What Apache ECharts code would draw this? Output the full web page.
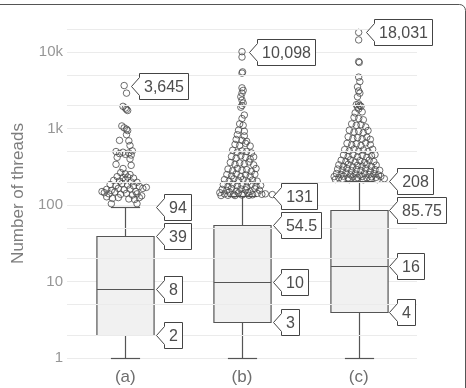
<!DOCTYPE html>
<html>
<head>
<meta charset="utf-8">
<script src="https://cdn.jsdelivr.net/npm/echarts@6/dist/echarts.min.js"></script>
<style>
	html, body { margin: 0; padding: 0; background: #fff; }
	#main { width: 466px; height: 388px; }
</style>
</head>
<body>
<div id="main"></div>
<script type="text/javascript">
	var categories = ['(a)', '(b)', '(c)'];
	var lowWhisker = [1, 1, 1];
	var q1 = [2, 3, 4];
	var median = [8, 10, 16];
	var q3 = [39, 54.5, 85.75];
	var highWhisker = [94, 131, 208];
	var yTicks = [1, 10, 100, 1000, 10000];
	var yTickLabels = ['1', '10', '100', '1k', '10k'];
	var minorGrid = [2, 5, 20, 50, 200, 500, 2000, 5000, 20000];

	// outliers: [jitter (category units), threads]
	var outliersA = [
		[-0.01, 3645], [0.01, 2900],
		[-0.02, 1950], [0, 1850], [0.01, 1780], [0.02, 1720],
		[-0.03, 1080], [-0.01, 1020], [0.01, 980], [0.02, 940],
		[0.01, 830], [-0.05, 700], [0.03, 690], [0.04, 600],
		[-0.08, 500], [-0.05, 470], [-0.02, 490], [0, 460], [0.03, 480], [0.05, 450], [0.06, 510],
		[-0.07, 420], [0.04, 400], [-0.08, 340], [0.05, 330], [-0.02, 300],
		[-0.04, 265], [0, 255], [0.04, 250], [-0.07, 235], [-0.02, 228], [0.02, 232], [0.07, 225],
		[-0.1, 210], [-0.05, 205], [0, 212], [0.05, 200], [0.1, 198],
		[-0.13, 185], [-0.08, 180], [-0.03, 190], [0.02, 182], [0.07, 178], [0.12, 175],
		[-0.16, 160], [-0.12, 155], [-0.06, 165], [-0.01, 158], [0.04, 162], [0.09, 150], [0.15, 165], [0.18, 170],
		[-0.18, 145], [-0.14, 140], [-0.09, 148], [-0.04, 138], [0.01, 142], [0.06, 135], [0.1, 140], [0.14, 132],
		[-0.2, 150], [-0.16, 128], [-0.11, 122], [-0.06, 125], [0.03, 120], [0.08, 118], [0.12, 125],
		[-0.12, 104], [0.1, 104]
	];
	var outliersB = [
		[0, 10098], [0, 8600], [0.005, 5500], [0, 5300],
		[0, 3400], [0.01, 3150], [0, 2900], [-0.01, 2600], [0, 2350], [0.01, 2150], [0, 2000], [-0.01, 1900],
		[0.02, 1500], [0, 1350], [-0.02, 1150], [0.01, 1100], [-0.03, 950], [0.02, 920], [-0.04, 830], [0.02, 800],
		[-0.05, 720], [0, 700], [0.04, 680],
		[-0.06, 620], [-0.02, 600], [0.03, 640], [0.07, 590],
		[-0.08, 520], [-0.04, 490], [0, 510], [0.04, 500], [0.08, 480],
		[-0.09, 430], [-0.05, 410], [-0.01, 440], [0.03, 420], [0.07, 400], [0.1, 425],
		[-0.1, 360], [-0.06, 340], [-0.02, 355], [0.02, 345], [0.06, 365], [0.1, 335],
		[-0.12, 295], [-0.08, 280], [-0.04, 300], [0, 285], [0.04, 290], [0.08, 275], [0.12, 300],
		[-0.13, 250], [-0.09, 240], [-0.05, 255], [-0.01, 235], [0.03, 248], [0.07, 238], [0.11, 252],
		[-0.15, 215], [-0.11, 205], [-0.07, 220], [-0.03, 208], [0.01, 215], [0.05, 200], [0.09, 212], [0.13, 205],
		[-0.16, 185], [-0.12, 175], [-0.08, 188], [-0.04, 178], [0, 182], [0.04, 172], [0.08, 186], [0.12, 176], [0.16, 180],
		[-0.17, 160], [-0.13, 155], [-0.09, 165], [-0.05, 152], [-0.01, 162], [0.03, 158], [0.07, 150], [0.11, 163], [0.15, 156],
		[-0.19, 145], [-0.15, 140], [-0.11, 148], [-0.07, 138], [-0.03, 144], [0.01, 140], [0.05, 146], [0.09, 136], [0.13, 142], [0.17, 138],
		[-0.18, 133], [-0.12, 134], [-0.06, 133], [0, 135], [0.06, 134], [0.2, 140], [0.26, 137]
	];
	var outliersC = [
		[0, 18031], [0, 14400], [0, 7500], [0.005, 7300], [0, 4700], [0.01, 4100], [-0.01, 3500], [0, 3100],
		[0.01, 2900], [-0.01, 2600], [0, 2100], [-0.02, 2050], [0.01, 2000], [0.02, 1950], [-0.01, 1900], [0, 1800],
		[0.03, 1650], [-0.03, 1600],
		[-0.04, 1400], [0, 1350], [0.04, 1300],
		[-0.06, 1150], [-0.02, 1100], [0.02, 1120], [0.06, 1050],
		[-0.08, 950], [-0.04, 900], [0, 920], [0.04, 880], [0.08, 940],
		[-0.09, 780], [-0.05, 740], [-0.01, 760], [0.03, 730], [0.07, 770], [0.1, 720],
		[-0.1, 640], [-0.06, 610], [-0.02, 630], [0.02, 600], [0.06, 650], [0.1, 615],
		[-0.12, 530], [-0.08, 510], [-0.04, 540], [0, 505], [0.04, 525], [0.08, 500], [0.12, 535],
		[-0.13, 450], [-0.09, 430], [-0.05, 455], [-0.01, 425], [0.03, 445], [0.07, 420], [0.11, 440], [0.14, 455],
		[-0.15, 385], [-0.11, 370], [-0.07, 390], [-0.03, 365], [0.01, 380], [0.05, 360], [0.09, 385], [0.13, 370],
		[-0.17, 335], [-0.13, 320], [-0.09, 340], [-0.05, 315], [-0.01, 330], [0.03, 322], [0.07, 338], [0.11, 318], [0.15, 332],
		[-0.18, 295], [-0.14, 285], [-0.1, 300], [-0.06, 280], [-0.02, 292], [0.02, 283], [0.06, 298], [0.1, 278], [0.14, 290], [0.18, 284],
		[-0.19, 258], [-0.15, 250], [-0.11, 262], [-0.07, 248], [-0.03, 255], [0.01, 245], [0.05, 260], [0.09, 250], [0.13, 257], [0.17, 247],
		[-0.21, 235], [-0.17, 228], [-0.13, 238], [-0.09, 226], [-0.05, 233], [-0.01, 229], [0.03, 236], [0.07, 227], [0.11, 234], [0.15, 230], [0.19, 237],
		[-0.2, 216], [-0.14, 218], [-0.08, 215], [-0.02, 220], [0.04, 214], [0.1, 219], [0.16, 215], [0.22, 221]
	];
	var outliers = [outliersA, outliersB, outliersC];

	var FONT = '"Liberation Sans", Arial, sans-serif';
	var TAG_FONT = '16px ' + FONT;
	var BOX_W = 0.49, CAP_W = 0.25;
	var lineColor = '#555555';

	// 数据整理
	var boxData = [];
	var pointData = [];
	var tags = [];
	outliers.forEach(function(list, i) {
		boxData.push([i, lowWhisker[i], q1[i], median[i], q3[i], highWhisker[i]]);
		var maxPt = list[0];
		list.forEach(function(o) {
			pointData.push([i + o[0], o[1]]);
			if (o[1] > maxPt[1]) maxPt = o;
		});
		[highWhisker[i], q3[i], median[i], q1[i]].forEach(function(v) {
			tags.push({ x: i, y: v, text: String(v), kind: 'box' });
		});
		tags.push({ x: i + maxPt[0], y: maxPt[1], text: maxPt[1].toLocaleString('en-US'), kind: 'pt' });
	});

	var measureCtx = document.createElement('canvas').getContext('2d');
	measureCtx.font = TAG_FONT;

	function bandWidth(api) {
		return api.coord([1, 1])[0] - api.coord([0, 1])[0];
	}

	function renderBox(params, api) {
		var i = api.value(0);
		var band = bandWidth(api);
		var cx = Math.round(api.coord([i, 1])[0]) + 0.5;
		var bw = band * BOX_W / 2, cw = band * CAP_W / 2;
		var y = [1, 2, 3, 4, 5].map(function(d) {
			return Math.round(api.coord([i, api.value(d)])[1]) + 0.5;
		});
		var st = { stroke: lineColor, lineWidth: 1.2, fill: null };
		return {
			type: 'group',
			children: [
				{ type: 'line', shape: { x1: cx, y1: y[0], x2: cx, y2: y[1] }, style: st },
				{ type: 'line', shape: { x1: cx, y1: y[3], x2: cx, y2: y[4] }, style: st },
				{ type: 'line', shape: { x1: cx - cw, y1: y[0], x2: cx + cw, y2: y[0] }, style: st },
				{ type: 'line', shape: { x1: cx - cw, y1: y[4], x2: cx + cw, y2: y[4] }, style: st },
				{ type: 'rect', shape: { x: cx - bw, y: y[3], width: bw * 2, height: y[1] - y[3] },
					style: { fill: '#f1f1f1', stroke: lineColor, lineWidth: 1.2 } },
				{ type: 'line', shape: { x1: cx - bw, y1: y[2], x2: cx + bw, y2: y[2] }, style: st }
			]
		};
	}

	function renderTag(params, api) {
		var t = tags[params.dataIndex];
		var p = api.coord([api.value(0), api.value(1)]);
		var band = bandWidth(api);
		var tx = t.kind === 'box' ? p[0] + band * BOX_W / 2 + 2 : p[0] + 7;
		var x0 = Math.round(tx) + 0.5;
		var y = Math.round(p[1]) + 0.5;
		var w = Math.round(measureCtx.measureText(t.text).width) + 9;
		var h = 26, d = 8, a = 9;
		return {
			type: 'group',
			children: [
				{
					type: 'polygon',
					shape: { points: [[x0, y], [x0 + d, y - a], [x0 + d, y - h / 2], [x0 + d + w, y - h / 2],
						[x0 + d + w, y + h / 2], [x0 + d, y + h / 2], [x0 + d, y + a]] },
					style: { fill: '#fff', stroke: '#444', lineWidth: 1 }
				},
				{
					type: 'text',
					style: { x: x0 + d + w / 2, y: y + 1, text: t.text, font: TAG_FONT, fill: '#4d4d4d',
						align: 'center', verticalAlign: 'middle', textAlign: 'center', textVerticalAlign: 'middle' }
				}
			]
		};
	}

	var chart = echarts.init(document.getElementById('main'));
	var option = {
		animation: false,
		backgroundColor: '#fff',
		graphic: [{
			type: 'rect',
			shape: { x: -10, y: 4.5, width: 475.5, height: 500, r: 6 },
			style: { fill: null, stroke: '#555', lineWidth: 1 },
			silent: true
		}],
		grid: { left: 67, right: 49, top: 29, bottom: 30, containLabel: false, outerBoundsMode: 'none' },
		xAxis: [{
			type: 'category',
			data: categories,
			axisLine: { show: false },
			axisTick: { show: false },
			splitLine: { show: false },
			axisLabel: { color: '#6e6e6e', fontSize: 17, fontFamily: FONT, margin: 11 }
		}, {
			type: 'value',
			min: -0.5,
			max: 2.5,
			show: false
		}],
		yAxis: {
			type: 'log',
			logBase: 10,
			min: 1,
			max: 20000,
			name: 'Number of threads',
			nameLocation: 'middle',
			nameGap: 31,
			nameTextStyle: { color: '#7d7d7d', fontSize: 17, fontFamily: FONT },
			axisLine: { show: false },
			axisTick: { show: false },
			axisLabel: {
				color: '#969696', fontSize: 15, fontFamily: FONT, margin: 4,
				formatter: function(v) {
					for (var j = 0; j < yTicks.length; j++) {
						if (Math.abs(v - yTicks[j]) < yTicks[j] * 1e-6) return yTickLabels[j];
					}
					return '';
				}
			},
			splitLine: { lineStyle: { color: '#ebebeb', width: 1 } }
		},
		series: [{
			type: 'line',
			xAxisIndex: 1,
			data: [],
			z: 1,
			silent: true,
			markLine: {
				silent: true,
				symbol: 'none',
				label: { show: false },
				lineStyle: { color: '#ebebeb', type: 'solid', width: 1 },
				data: minorGrid.map(function(v) { return { yAxis: v }; })
			}
		}, {
			type: 'custom',
			xAxisIndex: 1,
			renderItem: renderBox,
			encode: { x: 0, y: [1, 2, 3, 4, 5] },
			data: boxData,
			clip: false,
			z: 3
		}, {
			type: 'scatter',
			xAxisIndex: 1,
			symbol: 'circle',
			symbolSize: 6.5,
			itemStyle: { color: 'rgba(255,255,255,0)', borderColor: '#4a4a4a', borderWidth: 1 },
			data: pointData,
			z: 4
		}, {
			type: 'custom',
			xAxisIndex: 1,
			renderItem: renderTag,
			encode: { x: 0, y: 1 },
			data: tags.map(function(t) { return [t.x, t.y]; }),
			clip: false,
			z: 5
		}]
	};
	chart.setOption(option);
	window.onresize = chart.resize;
</script>
</body>
</html>
